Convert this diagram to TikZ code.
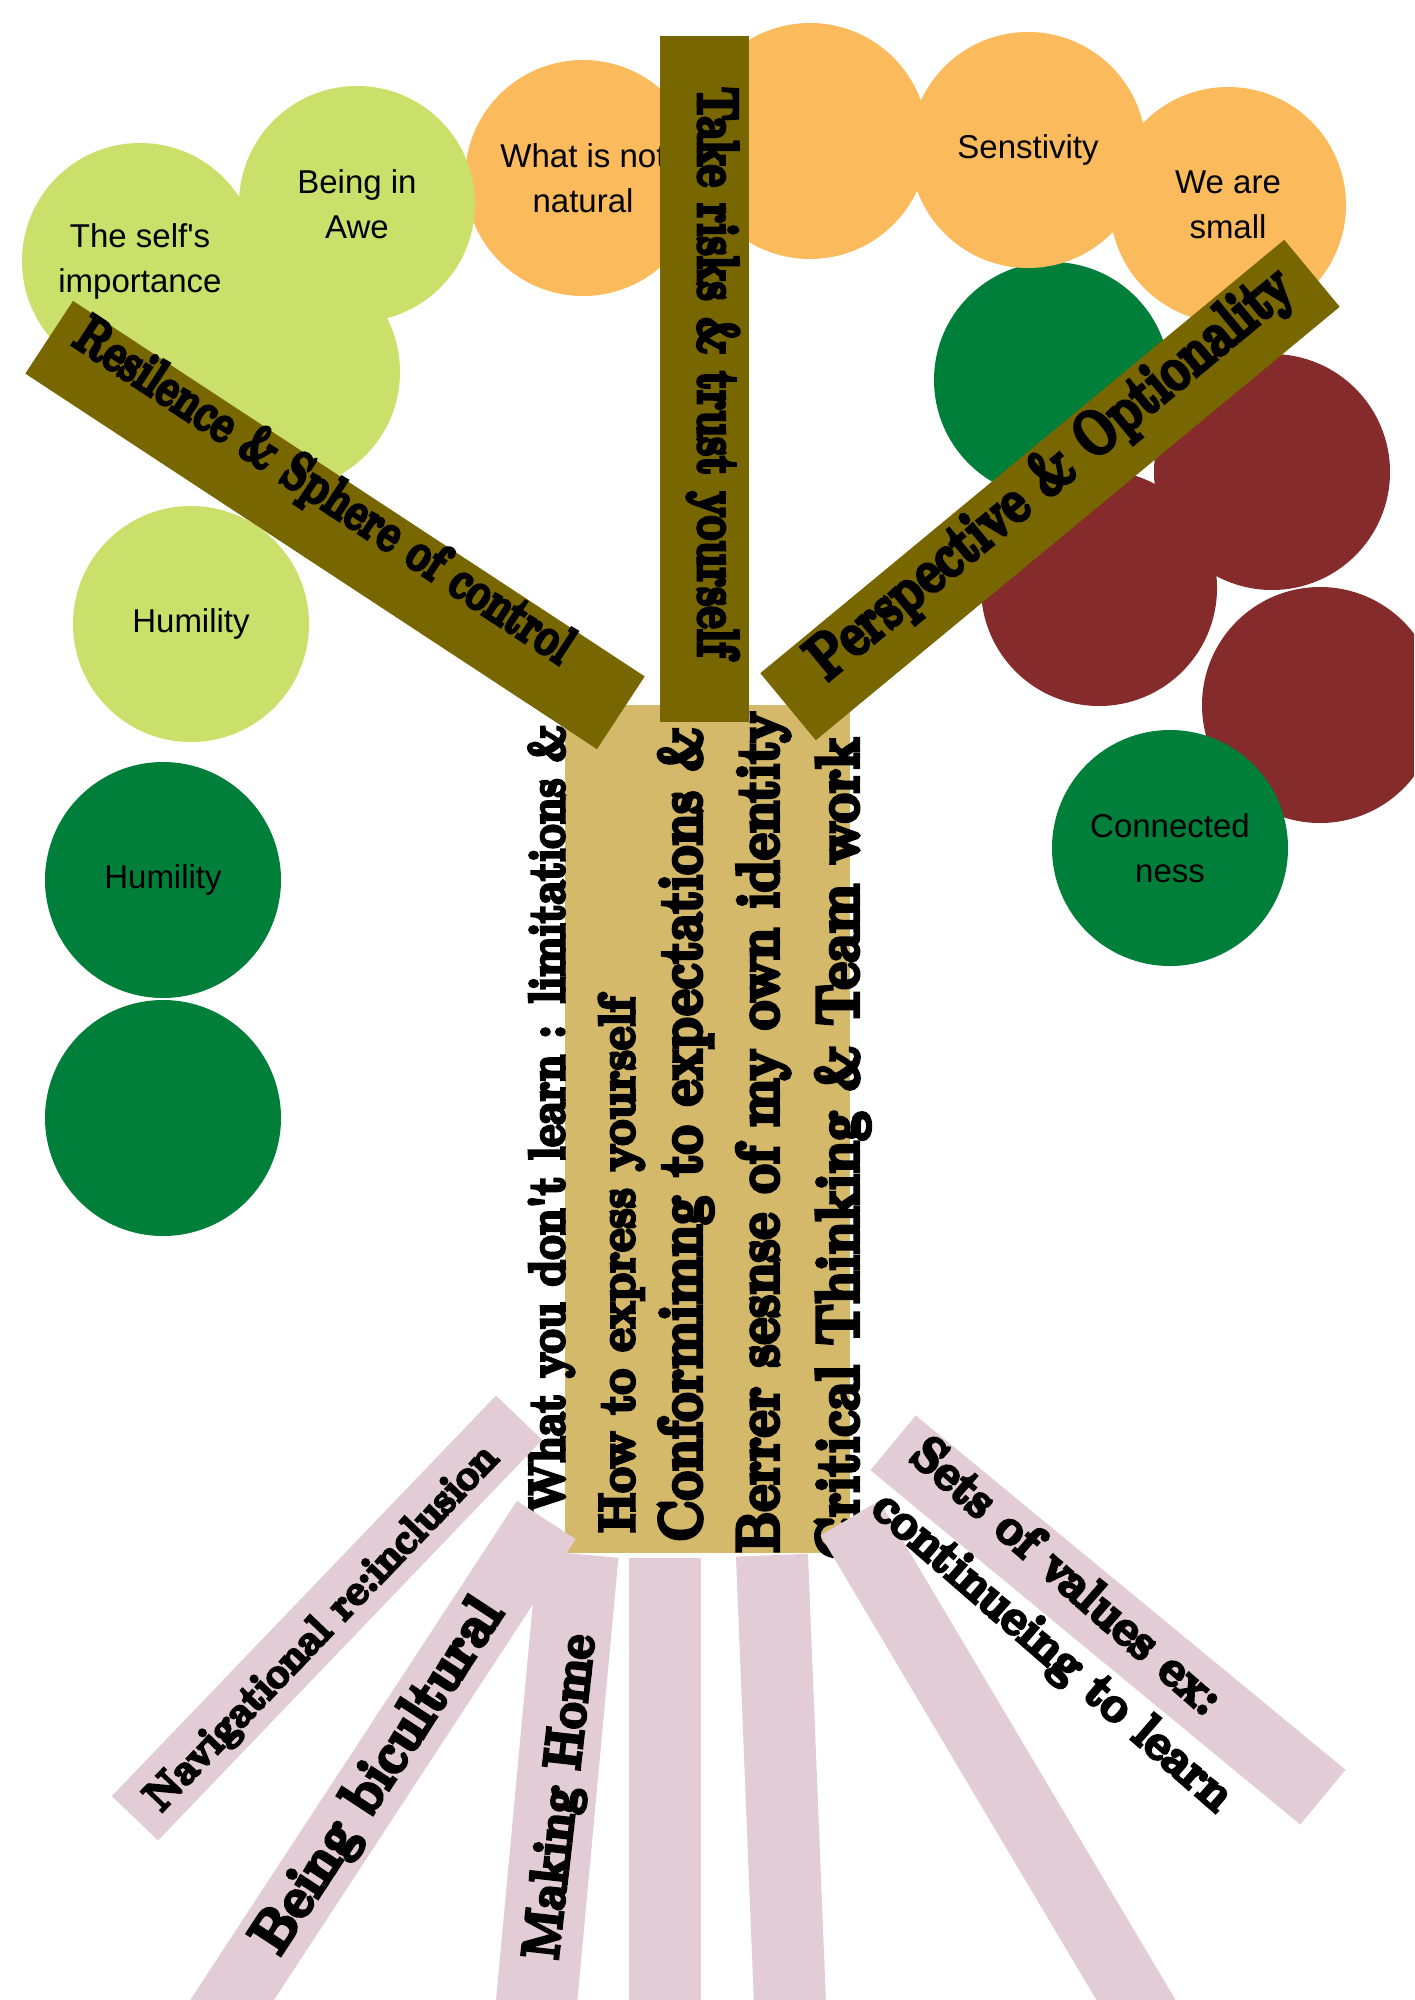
\documentclass[tikz,border=0pt]{standalone}
\usepackage{fontspec}
\setmainfont{Latin Modern Roman}
\newfontfamily\circfont{Liberation Sans}
\newfontfamily\dispfont{Latin Modern Roman}[FakeBold=7]
\usepackage{graphicx}
\definecolor{cLime}{HTML}{CBDF6B}
\definecolor{cOrange}{HTML}{FBBB5C}
\definecolor{cDGreen}{HTML}{007F3A}
\definecolor{cDRed}{HTML}{852B2C}
\definecolor{cOlive}{HTML}{786600}
\definecolor{cTan}{HTML}{D4B96B}
\definecolor{cPink}{HTML}{E2CCD6}
\newcommand{\fitto}[3]{{\fontsize{#1}{#1}\selectfont\resizebox{#2pt}{\height}{#3}}}
\tikzset{
  circ/.style={circle, minimum size=236pt, inner sep=0pt, align=center,
    font=\circfont\fontsize{33}{45}\selectfont, text=black},
  branchbar/.style={rectangle, inner sep=0pt, fill=cOlive},
  rootbar/.style={rectangle, inner sep=0pt, fill=cPink},
  lbl/.style={inner sep=0pt, font=\dispfont\bfseries, text=black}
}
\begin{document}
\begin{tikzpicture}[x=1pt,y=-1pt]
\useasboundingbox[fill=white] (0,0) rectangle (1414,2000);
\clip (0,0) rectangle (1414,2000);
% circles
\node[circ, fill=cOrange] (c7) at (583,178) {What is not\\natural};
\node[circ, fill=cLime] (c3) at (282,372) {};
\node[circ, fill=cLime] (c4) at (191,624) {Humility};
\node[circ, fill=cLime] (c1) at (140,261) {The self's\\importance};
\node[circ, fill=cLime] (c2) at (357,204) {Being in\\Awe};
\node[circ, fill=cDGreen] (c5) at (163,880) {Humility};
\node[circ, fill=cDGreen] (c6) at (163,1118) {};
\node[circ, fill=cDGreen] (c11) at (1052,380) {};
\node[circ, fill=cOrange] (c8) at (810,141) {};
\node[circ, fill=cOrange] (c9) at (1028,150) {Senstivity};
\node[circ, fill=cOrange] (c10) at (1228,205) {We are\\small};
\node[circ, fill=cDRed] (c13) at (1272,472) {};
\node[circ, fill=cDRed] (c14) at (1099,588) {};
\node[circ, fill=cDRed] (c15) at (1320,705) {};
\node[circ, fill=cDGreen] (c12) at (1170,848) {Connected\\ness};
% trunk
\fill[cTan] (565,705) rectangle (850,1553);
\node[lbl, rotate=90, anchor=base west] (t1) at (564,1513) {\fitto{50}{788}{What you don't learn : limitations \&}};
\node[lbl, rotate=90, anchor=base west] (t2) at (634,1533) {\fitto{50}{536}{How to express yourself}};
\node[lbl, rotate=90, anchor=base west] (t3) at (701,1542) {\fitto{60}{815}{Conformimng to expectations \&}};
\node[lbl, rotate=90, anchor=base west] (t4) at (778,1553) {\fitto{59}{841}{Berrer sesnse of my own identity}};
\node[lbl, rotate=90, anchor=base west] (t5) at (858,1560) {\fitto{60}{822}{Critical Thinking \& Team work}};
% branches
\node[branchbar, minimum width=89pt, minimum height=686pt] (bv) at (704.5,379) {};
\node[lbl, rotate=-90] (bvt) at (713,372) {\fitto{57}{570}{Take risks \& trust yourself}};
\node[branchbar, rotate=-33.3, minimum width=684pt, minimum height=87pt] (bl) at (335,525) {};
\node[lbl, rotate=-33.3] (blt) at (323,493) {\fitto{54}{585}{Resilence \& Sphere of control}};
\node[branchbar, rotate=39.6, minimum width=680pt, minimum height=87pt] (br) at (1050,490) {};
\node[lbl, rotate=39.6] (brt) at (1052,475) {\fitto{62}{610}{Perspective \& Optionality}};
% roots
\node[rootbar, rotate=46.2, minimum width=555pt, minimum height=64pt] (r1) at (327,1618) {};
\node[rootbar, rotate=56.8, minimum width=600pt, minimum height=70pt] (r2) at (382,1771) {};
\node[rootbar, rotate=84.7, minimum width=500pt, minimum height=81pt] (r3) at (555,1803) {};
\fill[cPink] (629,1558) rectangle (701,2000);
\node[rootbar, rotate=92.3, minimum width=500pt, minimum height=72pt] (r5) at (782,1805) {};
\node[rootbar, rotate=-59.3, minimum width=600pt, minimum height=68pt] (r6) at (1003,1776) {};
\node[rootbar, rotate=-39.5, minimum width=557pt, minimum height=71pt] (r7) at (1108,1620) {};
\node[lbl, rotate=46.2] (r1t) at (323,1629) {\fitto{42}{489}{Navigational re:inclusion}};
\node[lbl, rotate=56.8] (r2t) at (380,1777) {\fitto{57}{411}{Being bicultural}};
\node[lbl, rotate=83.5] (r3t) at (563,1797) {\fitto{52}{326}{Making Home}};
\node[lbl, rotate=-41] (r7t) at (1068,1575) {\fitto{50}{394}{Sets of values ex:}};
\node[lbl, rotate=-41] (r7u) at (1051,1653) {\fitto{50}{460}{continueing to learn}};
\end{tikzpicture}
\end{document}
